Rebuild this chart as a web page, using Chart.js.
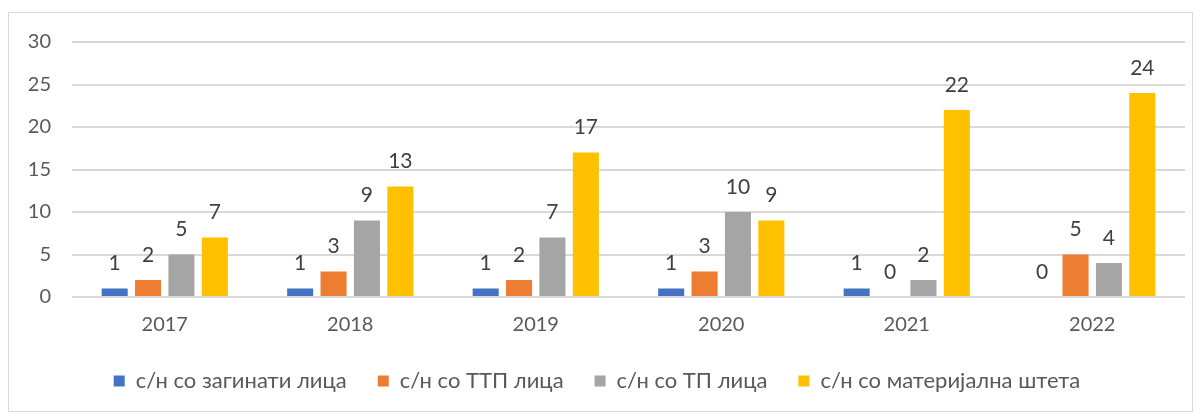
<!DOCTYPE html>
<html>
<head>
<meta charset="utf-8">
<script src="https://cdn.jsdelivr.net/npm/chart.js@4/dist/chart.umd.min.js"></script>
<style>
  body { margin: 0; background: #fff; }
  #box {
    position: absolute; left: 8px; top: 12px;
    width: 1183px; height: 398px;
    border: 1px solid #d9d9d9; background: #fff;
    overflow: hidden;
  }
  #chart { position: relative; top: -4px; display: block; }
</style>
</head>
<body>
<div id="box"><canvas id="chart" width="1183" height="402"></canvas></div>
<script>
const years = ['2017', '2018', '2019', '2020', '2021', '2022'];
const seriesNames = ['с/н со загинати лица', 'с/н со ТТП лица', 'с/н со ТП лица', 'с/н со материјална штета'];
const killed = [1, 1, 1, 1, 1, 0];
const seriouslyInjured = [2, 3, 2, 3, 0, 5];
const lightlyInjured = [5, 9, 7, 10, 2, 4];
const materialDamage = [7, 13, 17, 9, 22, 24];
const yTicks = [0, 5, 10, 15, 20, 25, 30];

const colors = ['#4472c4', '#ed7d31', '#a5a5a5', '#ffc000'];
const FONT = 'Lato, "Noto Sans", sans-serif';

// draws the value above each bar (no datalabels plugin available)
const valueLabels = {
    id: 'valueLabels',
    afterDatasetsDraw(chart) {
        const ctx = chart.ctx;
        ctx.save();
        ctx.font = '21px ' + FONT;
        ctx.fillStyle = '#404040';
        ctx.textAlign = 'center';
        ctx.textBaseline = 'middle';
        chart.data.datasets.forEach((ds, i) => {
            chart.getDatasetMeta(i).data.forEach((bar, j) => {
                ctx.fillText(String(ds.data[j]), bar.x, bar.y - 25);
            });
        });
        ctx.restore();
    }
};

const allSeries = [killed, seriouslyInjured, lightlyInjured, materialDamage];

new Chart(document.getElementById('chart'), {
    type: 'bar',
    data: {
        labels: years,
        datasets: allSeries.map((data, i) => ({
            label: seriesNames[i],
            data: data,
            backgroundColor: colors[i],
            borderWidth: 0,
            barPercentage: 0.78,
            categoryPercentage: 0.72
        }))
    },
    options: {
        responsive: false,
        animation: false,
        layout: { padding: { left: 0, right: 7, top: 0, bottom: 9 } },
        scales: {
            x: {
                grid: { display: false, drawTicks: false },
                border: { display: false },
                afterFit: scale => { scale.height = 42; },
                ticks: { color: '#595959', font: { family: FONT, size: 20 }, padding: 16 }
            },
            y: {
                min: 0,
                max: 30,
                afterBuildTicks: scale => { scale.ticks = yTicks.map(v => ({ value: v })); },
                afterFit: scale => { scale.width = 63; },
                grid: { color: '#d9d9d9', lineWidth: 2, drawTicks: false },
                border: { display: false },
                ticks: { color: '#595959', font: { family: FONT, size: 20 }, padding: 21 }
            }
        },
        plugins: {
            tooltip: { enabled: false },
            legend: {
                position: 'bottom',
                labels: {
                    color: '#595959',
                    font: { family: FONT, size: 22 },
                    boxWidth: 11,
                    boxHeight: 11,
                    padding: 31
                }
            }
        }
    },
    plugins: [valueLabels]
});
</script>
</body>
</html>
